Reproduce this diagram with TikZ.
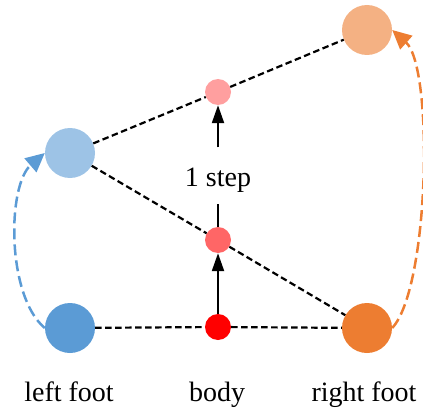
\documentclass[tikz,border=0pt]{standalone}
\usepackage{fontspec}
\setmainfont{Liberation Serif}
\usetikzlibrary{arrows.meta}
\definecolor{footL}{HTML}{5B9BD5}
\definecolor{footLnew}{HTML}{9DC3E6}
\definecolor{footR}{HTML}{ED7D31}
\definecolor{footRnew}{HTML}{F4B183}
\definecolor{bodyA}{HTML}{FF0000}
\definecolor{bodyB}{HTML}{FF6666}
\definecolor{bodyC}{HTML}{FF9F9F}
\tikzset{
  foot/.style={circle, inner sep=0pt, minimum size=50pt},
  bodydot/.style={circle, inner sep=0pt, minimum size=26pt},
  link/.style={black, line width=2.2pt, dash pattern=on 6.5pt off 3.5pt},
  stepline/.style={black, line width=2.2pt},
  steptip/.style={-{Triangle[length=18pt,width=12pt]}},
  swing/.style={line width=2.5pt, dash pattern=on 11pt off 5pt,
    -{Triangle[length=19pt,width=18pt]}},
  lbl/.style={font=\fontsize{28}{34}\selectfont, anchor=base, inner sep=0pt}
}
\begin{document}
\begin{tikzpicture}[x=1pt,y=1pt]
\useasboundingbox (0,0) rectangle (423,408);

% feet and body positions
\node[foot, fill=footL]    (lf)   at (70,80)   {};
\node[foot, fill=footLnew] (lfn)  at (70,255)  {};
\node[foot, fill=footR]    (rf)   at (367,80)  {};
\node[foot, fill=footRnew] (rfn)  at (367,378) {};
\node[bodydot, fill=bodyA] (body) at (218,81)  {};
\node[bodydot, fill=bodyB] (mid)  at (218,168) {};
\node[bodydot, fill=bodyC] (top)  at (218,316) {};

% support lines
\draw[link] (lf) -- (body) -- (rf);
\draw[link] (lfn) -- (mid) -- (rf);
\draw[link] (lfn) -- (top) -- (rfn);

% body steps
\node[lbl] (steplbl) at (218,222) {1 step};
\draw[stepline, steptip] (body) -- (mid);
\draw[stepline, shorten >=12pt] (mid) -- (steplbl);
\draw[stepline, steptip, shorten <=20pt] (steplbl) -- (top);

% foot swings
\draw[swing, footL] (lf.west) .. controls (6.5,112) and (7,222.5) .. (lfn.west);
\draw[swing, footR] (rf.east) .. controls (429.4,120) and (434,340.6) .. (rfn.east);

% labels
\node[lbl] (lflbl)   at (69,7)  {left foot};
\node[lbl] (bodylbl) at (217,7) {body};
\node[lbl] (rflbl)   at (364,7) {right foot};
\end{tikzpicture}
\end{document}
